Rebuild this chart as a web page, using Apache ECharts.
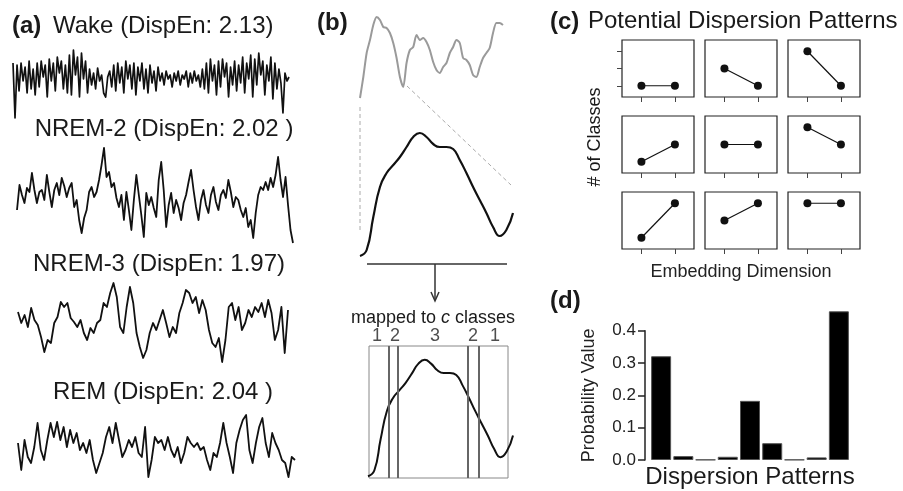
<!DOCTYPE html>
<html>
<head>
<meta charset="utf-8">
<script src="https://cdn.jsdelivr.net/npm/echarts@6/dist/echarts.min.js"></script>
<style>
html, body { margin: 0; padding: 0; background: #fff; }
#main { width: 903px; height: 491px; }
</style>
</head>
<body>
<div id="main"></div>
<script>
const FONT = '"Liberation Sans", Arial, sans-serif';

// (a) EEG traces per sleep stage (amplitude, arbitrary units)
const wake = [20, -35, 18, -8, 20, 2, 16, -10, 22, -6, 14,
  -12, 20, -4, 22, 6, 18, -14, 24, 2, 20, -8, 26, 10, 22, -6, 18, -10,
  28, -12, 33, 8, 26, -14, 30, 4, 22, -10,
  14, -2, 10, -6, 15, 2, 8, -10, -14, 6, 12, -4,
  18, -8, 20, 0, 16, -10, 22, 4, 18, -6, 20, -12, 16, 2, 20, -6, 14, -10, 18, 0, 12, -8, 16,
  2, 10, -2, 12, 4, 8, -4, 10, 2, 12, -2, 8, 4, 12, -4, 10, 0, 12, 2, 8, -4,
  14, -6, 20, -10, 24, 2, 18, -12, 22, -4, 24, 6, 20, -14, 16, -2, 22, -8, 18, 0,
  26, -10, 20, 4, 28, -14, 24, -2, 30, 8, 22, -12, 18, 2, 26, -16, 20, -6, 14, 0, -30, 10, 2, 6];
const nrem2 = [-10, 15, 5, -3, 12, 8, 27, 10, -3, 8, 10, 0, 25, 8, -7, 10, 17, 5, 22, 14,
  3, 12, 17, -7, 0, -20, -33, -18, -10, 8, 13, 3, 8, 20, 35, 52, 23, 28, 13, 17,
  2, -7, 5, -20, 8, -10, -30, 0, 25, 5, -15, -37, 7, -5, 3, -8, -17, 20, 38, 10,
  -27, -5, 7, -13, 0, -8, -20, -3, 5, 18, 30, 10, -7, -20, 0, 10, -5, -13, 5, 13,
  -2, -10, 5, 10, 2, 20, 8, -7, 3, 0, -10, -17, -8, -27, -20, -38, -13, 5, 13, 10,
  18, 10, 22, 13, 25, 43, 20, 3, 23, -5, -30, -43];
const nrem3 = [8, -3, 5, -7, 12, 0, -5, -17, -32, -20, -23, -3, 3, 18, 13, 17, 2, -2, -7, 0,
  -13, -20, -8, -13, -3, 0, 17, 13, 27, 37, 23, -7, -13, 13, 33, 17, -13, -27, -38, -30,
  -13, -3, -10, 0, 10, -3, -17, -7, -13, 7, 17, 30, 27, 17, 23, 7, 20, 10, -10, -23,
  -27, -18, -42, -20, 13, 17, 0, 13, -10, -3, 10, 3, 13, 8, 17, 3, 20, 7, -20, -10,
  13, -33, 10];
const rem = [-3, -30, 0, -17, -23, -7, 17, -10, -20, 0, 17, 3, 18, 0, 13, -7, 10, -3, 7, -10,
  -3, -13, 0, -20, -33, -23, -13, 3, 13, -3, 17, 0, -17, -10, 0, -7, 3, -13, -17, 13,
  -37, -20, 3, -3, 0, -10, 3, -10, -17, -7, -23, -13, 3, -3, -7, -3, -10, -7, -20, -30,
  -13, -17, -3, 17, -3, -17, -33, -3, 10, 20, 25, -10, -23, -3, 13, 22, -3, -17, 7, -3,
  -10, -20, -23, -37, -17, -20];

// (b) raw signal and the zoomed segment
const rawSignal = [2, 23, 47, 60, 75, 83, 80, 73, 72, 67, 57, 42, 23, 13, 37, 50, 53, 65, 60, 62,
  58, 50, 38, 30, 27, 33, 37, 47, 53, 60, 57, 42, 40, 35, 25, 23, 33, 42, 47, 52, 67, 77, 77, 75];
const segment = [4, 10, 43, 73, 87, 95, 103, 113, 123, 127, 123, 116, 113, 113, 111, 100, 87, 73,
  60, 47, 33, 24, 30, 47];
const classEdges = [0.145, 0.215, 0.71, 0.785];
const classLabels = ['1', '2', '3', '2', '1'];
const classLabelPos = [0.058, 0.187, 0.475, 0.748, 0.906];

// (c) the 9 possible patterns (class at dim 1, class at dim 2)
const patterns = [[1, 1], [2, 1], [3, 1], [1, 2], [2, 2], [3, 2], [1, 3], [2, 3], [3, 3]];

// (d) probability of each pattern
const patternNames = ['1', '2', '3', '4', '5', '6', '7', '8', '9'];
const probs = [0.321, 0.012, 0.001, 0.01, 0.183, 0.052, 0.001, 0.008, 0.46];

const chart = echarts.init(document.getElementById('main'));
const grids = [], xAxes = [], yAxes = [], series = [];

function addGrid(g, xa, ya) {
  grids.push(Object.assign({ outerBoundsMode: 'none', containLabel: false }, g));
  const gi = grids.length - 1;
  xAxes.push(Object.assign({ gridIndex: gi }, xa));
  yAxes.push(Object.assign({ gridIndex: gi }, ya));
  return gi;
}

function addTrace(values, box, yMin, yMax, color, width, smooth) {
  const gi = addGrid(box,
    { type: 'category', show: false, boundaryGap: false, data: values.map((_, i) => i) },
    { type: 'value', show: false, min: yMin, max: yMax });
  series.push({
    type: 'line', xAxisIndex: gi, yAxisIndex: gi, data: values, symbol: 'none',
    smooth: smooth, silent: true, clip: false, animation: false,
    lineStyle: { color: color, width: width, join: 'round' }
  });
}

// panel (a)
addTrace(wake, { left: 13, top: 48, width: 276, height: 70 }, -35, 35, '#111', 1.7, false);
addTrace(nrem2, { left: 17, top: 147, width: 276, height: 96 }, -43, 53, '#111', 1.8, false);
addTrace(nrem3, { left: 18, top: 282, width: 270, height: 80 }, -42, 38, '#111', 1.8, false);
addTrace(rem, { left: 18, top: 413, width: 277, height: 65 }, -38, 27, '#111', 1.8, false);

// panel (b)
addTrace(rawSignal, { left: 360, top: 0, width: 143, height: 100 }, 0, 100, '#9a9a9a', 2, 0.25);
addTrace(segment, { left: 360, top: 130, width: 153, height: 130 }, 0, 130, '#111', 2.2, true);

// box with class boundaries
const boxG = addGrid({ left: 369, top: 346, width: 139, height: 132, show: true, borderColor: '#888', borderWidth: 1 },
  { type: 'value', show: false, min: 0, max: 1 },
  { type: 'value', show: false, min: 0, max: 1 });
series.push({
  type: 'scatter', xAxisIndex: boxG, yAxisIndex: boxG, symbolSize: 0, silent: true, animation: false,
  data: classLabelPos.map((p, i) => ({ value: [p, 1], name: classLabels[i] })),
  label: { show: true, formatter: '{b}', position: 'inside', offset: [0, -10], fontSize: 18, color: '#222', fontFamily: FONT },
  markLine: {
    silent: true, symbol: 'none', label: { show: false },
    lineStyle: { color: '#666', width: 2, type: 'solid' },
    data: classEdges.map(e => ({ xAxis: e }))
  }
});
addTrace(segment, { left: 368, top: 357, width: 145, height: 123 }, 0, 130, '#111', 2, true);

// panel (c)
const cLefts = [622, 705, 788], cTops = [40, 116, 192];
patterns.forEach((p, k) => {
  const r = Math.floor(k / 3), c = k % 3;
  const gi = addGrid({ left: cLefts[c], top: cTops[r], width: 72, height: 57, show: true, borderColor: '#222', borderWidth: 1.2 },
    {
      type: 'value', min: 0.42, max: 2.57,
      axisLine: { show: false }, splitLine: { show: false }, axisLabel: { show: false },
      axisTick: { show: true, customValues: [1, 2], length: 5, lineStyle: { color: '#444' } },
      name: k === 7 ? 'Embedding Dimension' : '', nameLocation: 'middle', nameGap: 14,
      nameTextStyle: { fontSize: 18, color: '#222', fontFamily: FONT }
    },
    {
      type: 'value', min: 0.35, max: 3.65,
      axisLine: { show: false }, splitLine: { show: false }, axisLabel: { show: false },
      axisTick: { show: k === 0, customValues: [1, 2, 3], length: 5, lineStyle: { color: '#444' } }
    });
  series.push({
    type: 'line', xAxisIndex: gi, yAxisIndex: gi, data: [[1, p[0]], [2, p[1]]],
    symbol: 'circle', symbolSize: 8, silent: true, animation: false,
    itemStyle: { color: '#111' }, lineStyle: { color: '#111', width: 1.2 }
  });
});

// panel (d)
const dG = addGrid({ left: 650, top: 330.7, width: 200, height: 129.3 },
  {
    type: 'category', data: patternNames,
    axisLine: { show: false }, axisTick: { show: false }, axisLabel: { show: false },
    name: 'Dispersion Patterns', nameLocation: 'middle', nameGap: 5,
    nameTextStyle: { fontSize: 24, color: '#1a1a1a', fontFamily: FONT }
  },
  {
    type: 'value', min: 0, max: 0.4, interval: 0.1, offset: 5,
    axisLine: { show: true, lineStyle: { color: '#222', width: 1.5 } },
    axisTick: { show: true, length: 7, lineStyle: { color: '#222', width: 1.5 } },
    axisLabel: { formatter: v => v.toFixed(1), fontSize: 17, color: '#222', margin: 9, fontFamily: FONT },
    splitLine: { show: false },
    name: 'Probability Value', nameLocation: 'middle', nameGap: 47,
    nameTextStyle: { fontSize: 18, color: '#222', fontFamily: FONT }
  });
series.push({
  type: 'bar', xAxisIndex: dG, yAxisIndex: dG, data: probs, barCategoryGap: '10%',
  clip: false, silent: true, animation: false,
  itemStyle: { color: '#000', borderColor: '#555', borderWidth: 1 }
});

function txt(x, y, text, size, opts) {
  return Object.assign({
    type: 'text', x: x, y: y, silent: true,
    style: Object.assign({
      text: text, fill: '#1a1a1a', font: size + 'px ' + FONT,
      textAlign: 'left', textVerticalAlign: 'middle'
    }, (opts && opts.style) || {})
  }, (opts && opts.el) || {});
}

const graphics = [
  txt(12, 26, '(a)', 24, { style: { font: 'bold 24px ' + FONT } }),
  txt(53, 26, 'Wake (DispEn: 2.13)', 24),
  txt(164, 129, 'NREM-2 (DispEn: 2.02 )', 24, { style: { textAlign: 'center' } }),
  txt(159, 264, 'NREM-3 (DispEn: 1.97)', 24, { style: { textAlign: 'center' } }),
  txt(163, 392, 'REM (DispEn: 2.04 )', 24, { style: { textAlign: 'center' } }),
  txt(317, 23, '(b)', 24, { style: { font: 'bold 24px ' + FONT } }),
  txt(433, 318, 'mapped to {i|c} classes', 18, {
    style: { textAlign: 'center', rich: { i: { fontStyle: 'italic', fontSize: 18, fontFamily: FONT } } }
  }),
  txt(550, 22, '(c)', 24, { style: { font: 'bold 24px ' + FONT } }),
  txt(588, 21, 'Potential Dispersion Patterns', 24),
  txt(595, 137, '# of Classes', 18, { style: { textAlign: 'center' }, el: { rotation: Math.PI / 2 } }),
  txt(550, 301, '(d)', 24, { style: { font: 'bold 24px ' + FONT } }),
  // connectors between the raw signal and the zoomed segment
  { type: 'line', silent: true, shape: { x1: 360, y1: 107, x2: 360, y2: 233 }, style: { stroke: '#aaa', lineWidth: 1, lineDash: [4, 3] } },
  { type: 'line', silent: true, shape: { x1: 407, y1: 86, x2: 511, y2: 185 }, style: { stroke: '#aaa', lineWidth: 1, lineDash: [4, 3] } },
  { type: 'line', silent: true, shape: { x1: 367, y1: 264, x2: 507, y2: 264 }, style: { stroke: '#333', lineWidth: 1.5 } },
  { type: 'line', silent: true, shape: { x1: 435, y1: 264, x2: 435, y2: 300 }, style: { stroke: '#333', lineWidth: 1.5 } },
  { type: 'polyline', silent: true, shape: { points: [[431, 292], [435, 301], [439, 292]] }, style: { stroke: '#333', lineWidth: 1.5, fill: null } }
];

chart.setOption({
  animation: false,
  textStyle: { fontFamily: FONT },
  grid: grids,
  xAxis: xAxes,
  yAxis: yAxes,
  series: series,
  graphic: graphics
});
</script>
</body>
</html>
